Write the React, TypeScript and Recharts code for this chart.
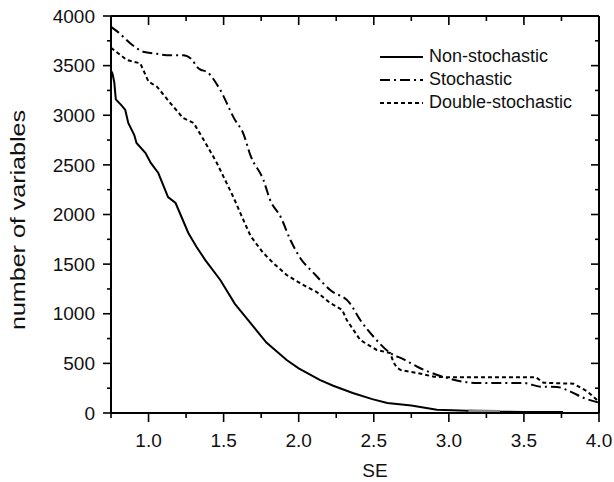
import React from 'react';
import { LineChart, Line, XAxis, YAxis, Label } from 'recharts';

// ---- data ----
const nonStochSE = [0.75, 0.76, 0.772, 0.782, 0.82, 0.845, 0.865, 0.905, 0.92, 0.98, 1.015, 1.065, 1.13, 1.18, 1.265, 1.32, 1.378, 1.478, 1.575, 1.7, 1.785, 1.92, 2.0, 2.14, 2.23, 2.36, 2.49, 2.59, 2.75, 2.81, 2.92, 3.12, 3.27, 3.34, 3.5, 3.76];
const nonStochCount = [3450, 3420, 3330, 3160, 3100, 3053, 2922, 2800, 2720, 2620, 2520, 2418, 2176, 2116, 1814, 1673, 1541, 1340, 1100, 867, 710, 534, 450, 333, 275, 201, 140, 101, 75, 60, 32, 23, 15, 13, 11, 10];

const stochSE = [0.75, 0.795, 0.89, 0.965, 1.055, 1.12, 1.23, 1.29, 1.32, 1.34, 1.395, 1.47, 1.575, 1.63, 1.68, 1.765, 1.81, 1.88, 1.945, 2.01, 2.1, 2.21, 2.34, 2.41, 2.5, 2.61, 2.7, 2.79, 2.96, 3.19, 3.5, 3.61, 3.72, 3.81, 3.9, 4.0];
const stochCount = [3890, 3840, 3710, 3640, 3620, 3605, 3605, 3560, 3489, 3465, 3430, 3275, 2955, 2820, 2590, 2348, 2146, 1975, 1743, 1562, 1410, 1239, 1108, 937, 766, 604, 540, 466, 366, 302, 302, 265, 262, 215, 151, 104];

const doubleSE = [0.75, 0.855, 0.945, 1.0, 1.056, 1.145, 1.23, 1.3, 1.38, 1.455, 1.565, 1.63, 1.68, 1.76, 1.83, 1.92, 2.03, 2.12, 2.21, 2.29, 2.32, 2.41, 2.52, 2.61, 2.63, 2.655, 2.68, 2.79, 2.9, 3.0, 3.3, 3.58, 3.63, 3.83, 3.92, 4.0];
const doubleCount = [3680, 3557, 3523, 3338, 3288, 3123, 2972, 2922, 2720, 2519, 2176, 1950, 1782, 1620, 1511, 1390, 1290, 1219, 1108, 1038, 937, 735, 635, 604, 514, 455, 433, 403, 366, 360, 360, 360, 305, 295, 220, 114];

const graySE = [3.13, 3.34];
const grayCount = [22, 14];

const xTicks = [0.75, 1.0, 1.25, 1.5, 1.75, 2.0, 2.25, 2.5, 2.75, 3.0, 3.25, 3.5, 3.75, 4.0];
const yTicks = [0, 250, 500, 750, 1000, 1250, 1500, 1750, 2000, 2250, 2500, 2750, 3000, 3250, 3500, 3750, 4000];

const legendLabels = ['Non-stochastic', 'Stochastic', 'Double-stochastic'];

const zip = (xs: number[], ys: number[]) => xs.map((x, i) => ({ se: x, n: ys[i] }));
const nonStochData = zip(nonStochSE, nonStochCount);
const stochData = zip(stochSE, stochCount);
const doubleData = zip(doubleSE, doubleCount);
const grayData = zip(graySE, grayCount);

const FONT = '"Liberation Sans", Arial, Helvetica, sans-serif';
const INK = '#111';
const STOCH_DASH = '10 4 2 4';
const DOUBLE_DASH = '4 3';

const isMajorX = (v: number) => Math.abs(v * 2 - Math.round(v * 2)) < 1e-6;
const isMajorY = (v: number) => v % 500 === 0;

const BottomTick = (props: any) => {
  const { x, y, payload } = props;
  const v = payload.value as number;
  const major = isMajorX(v);
  return (
    <g>
      <line x1={x} y1={y} x2={x} y2={y + (major ? 9 : 5)} stroke="#000" strokeWidth={1.6} />
      {major && (
        <text x={x} y={y + 34} textAnchor="middle" fontSize={19} fontFamily={FONT} fill={INK}>
          {v.toFixed(1)}
        </text>
      )}
    </g>
  );
};

const TopTick = (props: any) => {
  const { x, y, payload } = props;
  const major = isMajorX(payload.value);
  return <line x1={x} y1={y} x2={x} y2={y + (major ? 9 : 5)} stroke="#000" strokeWidth={1.6} />;
};

const LeftTick = (props: any) => {
  const { x, y, payload } = props;
  const v = payload.value as number;
  const major = isMajorY(v);
  return (
    <g>
      <line x1={x - (major ? 8 : 4)} y1={y} x2={x} y2={y} stroke="#000" strokeWidth={1.6} />
      {major && (
        <text x={x - 16} y={y + 6.7} textAnchor="end" fontSize={19} fontFamily={FONT} fill={INK}>
          {String(v)}
        </text>
      )}
    </g>
  );
};

const RightTick = (props: any) => {
  const { x, y, payload } = props;
  const major = isMajorY(payload.value);
  return <line x1={x - (major ? 8 : 4)} y1={y} x2={x} y2={y} stroke="#000" strokeWidth={1.6} />;
};

const axisLine = { stroke: '#000', strokeWidth: 2 };

export default function App() {
  return (
    <div style={{ position: 'absolute', left: 0, top: 0, width: 614, height: 482, background: '#fff' }}>
      <LineChart width={614} height={482} margin={{ top: 15, right: 14, bottom: 0, left: 0 }}>
        <XAxis
          xAxisId="bottom"
          dataKey="se"
          type="number"
          domain={[0.75, 4]}
          ticks={xTicks}
          interval={0}
          height={69}
          tickSize={0}
          tickMargin={0}
          tickLine={false}
          axisLine={axisLine}
          tick={<BottomTick />}
          allowDataOverflow
        >
          <Label
            content={() => (
              <text x={375} y={477} textAnchor="middle" fontSize={19} fontFamily={FONT} fill={INK}>
                SE
              </text>
            )}
          />
        </XAxis>
        <XAxis
          xAxisId="top"
          orientation="top"
          dataKey="se"
          type="number"
          domain={[0.75, 4]}
          ticks={xTicks}
          interval={0}
          height={1}
          tickSize={0}
          tickMargin={0}
          tickLine={false}
          axisLine={axisLine}
          tick={<TopTick />}
          allowDataOverflow
        />
        <YAxis
          yAxisId="left"
          type="number"
          domain={[0, 4000]}
          ticks={yTicks}
          interval={0}
          width={111}
          tickSize={0}
          tickMargin={0}
          tickLine={false}
          axisLine={axisLine}
          tick={<LeftTick />}
          allowDataOverflow
        >
          <Label
            content={() => (
              <text
                transform="translate(25,220) rotate(-90)"
                x={0}
                y={0}
                textAnchor="middle"
                fontSize={20}
                fontFamily={FONT}
                fill={INK}
                textLength={220}
                lengthAdjust="spacingAndGlyphs"
              >
                number of variables
              </text>
            )}
          />
        </YAxis>
        <YAxis
          yAxisId="right"
          orientation="right"
          type="number"
          domain={[0, 4000]}
          ticks={yTicks}
          interval={0}
          width={1}
          tickSize={0}
          tickMargin={0}
          tickLine={false}
          axisLine={axisLine}
          tick={<RightTick />}
          allowDataOverflow
        />
        <Line
          xAxisId="bottom"
          yAxisId="left"
          data={nonStochData}
          dataKey="n"
          type="linear"
          stroke="#000"
          strokeWidth={2}
          dot={false}
          activeDot={false}
          isAnimationActive={false}
        />
        <Line
          xAxisId="top"
          yAxisId="right"
          data={grayData}
          dataKey="n"
          type="linear"
          stroke="#8a8a8a"
          strokeWidth={3}
          dot={false}
          activeDot={false}
          isAnimationActive={false}
        />
        <Line
          xAxisId="bottom"
          yAxisId="left"
          data={stochData}
          dataKey="n"
          type="monotone"
          stroke="#000"
          strokeWidth={2}
          strokeDasharray={STOCH_DASH}
          dot={false}
          activeDot={false}
          isAnimationActive={false}
        />
        <Line
          xAxisId="bottom"
          yAxisId="left"
          data={doubleData}
          dataKey="n"
          type="linear"
          stroke="#000"
          strokeWidth={2}
          strokeDasharray={DOUBLE_DASH}
          dot={false}
          activeDot={false}
          isAnimationActive={false}
        />
      </LineChart>
      <svg
        width={239}
        height={75}
        style={{ position: 'absolute', left: 375, top: 40 }}
      >
        {legendLabels.map((lab, i) => {
          const base = 22 + i * 23;
          const dash = i === 0 ? undefined : i === 1 ? STOCH_DASH : DOUBLE_DASH;
          return (
            <g key={lab}>
              <line x1={5} x2={48} y1={base - 5} y2={base - 5} stroke="#000" strokeWidth={1.8} strokeDasharray={dash} />
              <text x={54} y={base} fontSize={18} fontFamily={FONT} fill={INK}>
                {lab}
              </text>
            </g>
          );
        })}
      </svg>
    </div>
  );
}
